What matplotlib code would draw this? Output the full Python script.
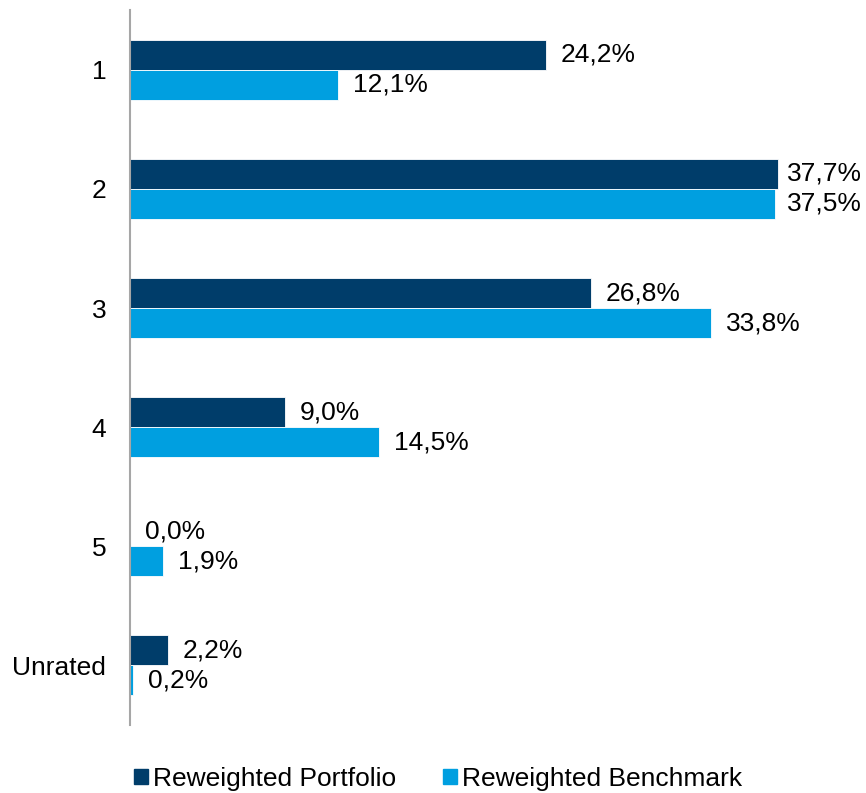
import matplotlib.pyplot as plt
from matplotlib.patches import Patch

plt.rcParams['font.family'] = ['Liberation Sans', 'DejaVu Sans']

categories = ['1', '2', '3', '4', '5', 'Unrated']
portfolio = [24.2, 37.7, 26.8, 9.0, 0.0, 2.2]
benchmark = [12.1, 37.5, 33.8, 14.5, 1.9, 0.2]
series_names = ['Reweighted Portfolio', 'Reweighted Benchmark']

dark = '#003d6a'
light = '#009fe0'

fig = plt.figure(figsize=(8.66, 7.93), dpi=100)
ax = fig.add_axes([0.150, 0.086, 0.794, 0.901])

y = list(range(len(categories)))
h = 0.252
ax.barh([v - h / 2 for v in y], portfolio, height=h, color=dark, edgecolor='white', linewidth=0.6)
ax.barh([v + h / 2 for v in y], benchmark, height=h, color=light, edgecolor='white', linewidth=0.6)

# value labels, pushed back in when they would run off the right edge
gap = 0.87
xmax_label = 38.25
for i in y:
    for vals, off in [(portfolio, -h / 2), (benchmark, h / 2)]:
        ax.text(min(vals[i] + gap, xmax_label), i + off, f'{vals[i]:.1f}%'.replace('.', ','),
                va='center', ha='left', fontsize=19)

ax.set_xlim(0, 40)
ax.set_ylim(len(categories) - 0.5, -0.5)
ax.set_yticks(y)
ax.set_yticklabels(categories, fontsize=19)
ax.tick_params(axis='y', length=0, pad=17)
ax.set_xticks([])
for s in ['top', 'right', 'bottom']:
    ax.spines[s].set_visible(False)
ax.spines['left'].set_color('#a6a6a6')
ax.spines['left'].set_linewidth(1.5)

handles = [Patch(color=dark), Patch(color=light)]
fig.legend(handles, series_names, loc='center', bbox_to_anchor=(0.506, 0.018), ncol=2,
           frameon=False, fontsize=19, handlelength=0.5, handleheight=0.5,
           handletextpad=0.2, columnspacing=1.8)

fig.savefig('out.png', dpi=100)
